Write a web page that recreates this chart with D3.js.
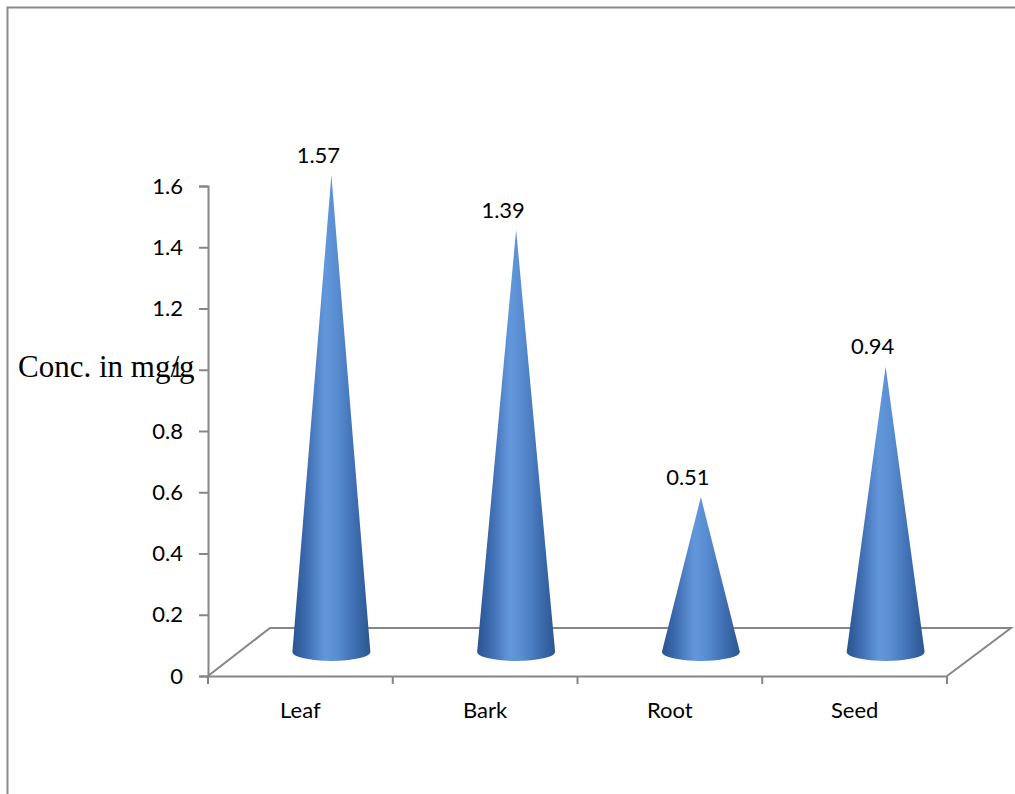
<!DOCTYPE html>
<html>
<head>
<meta charset="utf-8">
<script src="https://cdn.jsdelivr.net/npm/d3@7"></script>
<style>
  html, body { margin: 0; padding: 0; background: #fff; }
</style>
</head>
<body>
<div id="chart"></div>
<script>
// data
const categories = ["Leaf", "Bark", "Root", "Seed"];
const values = [1.57, 1.39, 0.51, 0.94];
const yTicks = [0, 0.2, 0.4, 0.6, 0.8, 1, 1.2, 1.4, 1.6];
const yTitle = "Conc. in mg/g";

const W = 1015, H = 794;
const sans = "Lato, 'Open Sans', sans-serif";

const svg = d3.select("#chart").append("svg")
  .attr("width", W)
  .attr("height", H);

// frame
svg.append("path")
  .attr("d", `M7.5,${H} L7.5,7.5 L${W},7.5`)
  .attr("fill", "none")
  .attr("stroke", "#8a8a8a")
  .attr("stroke-width", 2);

// =====================
// SCALES
// =====================
const x = d3.scaleBand()
  .domain(categories)
  .range([208, 947])
  .padding(0);

const y = d3.scaleLinear()
  .domain([0, 1.6])
  .range([676, 186]);

// depth: back of floor and mid plane where cones stand
const depth = { dx: 64, dy: -48 };
const yMid = d3.scaleLinear()
  .domain([0, 1.6])
  .range([676 + depth.dy / 2, 676 + depth.dy / 2 - 1.6 * 303.8]);

const axisColor = "#868686";

// floor
const x0 = x.range()[0], x1 = x.range()[1], yb = y(0);
svg.append("path")
  .attr("d", `M${x0},${yb} L${x0 + depth.dx - 2},${yb + depth.dy} L${x1 + depth.dx},${yb + depth.dy} L${x1},${yb}`)
  .attr("fill", "none")
  .attr("stroke", axisColor)
  .attr("stroke-width", 2);

// y axis
const yAxis = svg.append("g")
  .attr("transform", `translate(${x0},0)`)
  .call(d3.axisLeft(y).tickValues(yTicks).tickSize(9).tickPadding(16)
    .tickFormat(d => d3.format("")(d)));
yAxis.select(".domain").attr("stroke", axisColor).attr("stroke-width", 2);
yAxis.selectAll(".tick line").attr("stroke", axisColor).attr("stroke-width", 2);
yAxis.selectAll(".tick text")
  .attr("font-size", 22)
  .attr("font-family", sans)
  .attr("fill", "#000");

// x axis
const xAxis = svg.append("g")
  .attr("transform", `translate(0,${yb})`)
  .call(d3.axisBottom(x).tickSize(0).tickPadding(26));
xAxis.select(".domain").attr("stroke", axisColor).attr("stroke-width", 2);
xAxis.selectAll(".tick text")
  .attr("font-size", 22)
  .attr("font-family", sans)
  .attr("fill", "#000");

// x ticks at band edges
const edges = categories.map(c => x(c)).concat([x1]);
svg.append("g").selectAll("line")
  .data(edges)
  .join("line")
  .attr("x1", d => d).attr("x2", d => d)
  .attr("y1", yb).attr("y2", yb + 8)
  .attr("stroke", axisColor)
  .attr("stroke-width", 2);

// y title (sits over the "1" tick label, as in the original)
svg.append("text")
  .attr("x", 18)
  .attr("y", 377)
  .attr("font-family", "'Liberation Serif', 'Times New Roman', serif")
  .attr("font-size", 31)
  .attr("fill", "#000")
  .text(yTitle);

// =====================
// CONES
// =====================
const defs = svg.append("defs");
const grad = defs.append("linearGradient")
  .attr("id", "coneGrad")
  .attr("x1", "0%").attr("x2", "100%")
  .attr("y1", "0%").attr("y2", "0%");
[
  [0, "#2a5390"], [0.15, "#3968ab"], [0.42, "#6397dc"],
  [0.55, "#5b8fd4"], [0.8, "#3f6fb2"], [1, "#2b5690"]
].forEach(([o, c]) => grad.append("stop").attr("offset", o).attr("stop-color", c));

const r = 39, ry = 9;
const coneX = d => x(d.cat) + x.bandwidth() / 2 + depth.dx / 2 - 1;
const data = categories.map((c, i) => ({ cat: c, value: values[i] }));

const cones = svg.append("g").selectAll("g")
  .data(data)
  .join("g");

cones.append("path")
  .attr("d", d => {
    const cx = coneX(d), by = yMid(0), ay = yMid(d.value);
    return `M${cx},${ay} L${cx - r},${by} A${r},${ry} 0 0 0 ${cx + r},${by} Z`;
  })
  .attr("fill", "url(#coneGrad)");

// value labels
cones.append("text")
  .attr("x", d => coneX(d) - 13)
  .attr("y", d => yMid(d.value) - 12)
  .attr("text-anchor", "middle")
  .attr("font-family", sans)
  .attr("font-size", 22)
  .attr("fill", "#000")
  .text(d => d3.format(".2f")(d.value));
</script>
</body>
</html>
